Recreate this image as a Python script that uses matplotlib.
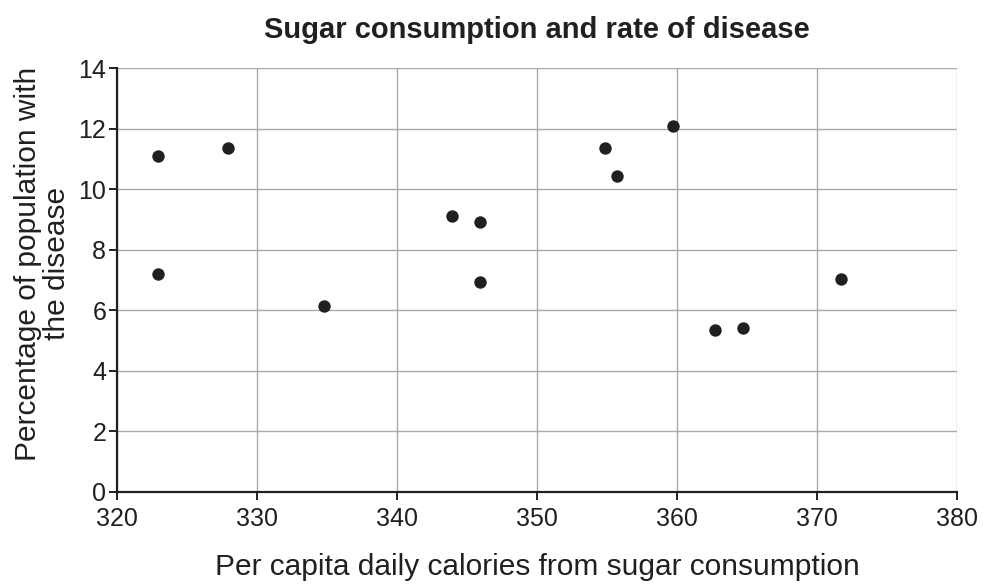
import matplotlib
matplotlib.use("Agg")
import matplotlib.pyplot as plt

# per capita daily calories from sugar vs % of population with the disease
calories = [322.9, 322.9, 327.9, 334.8, 343.9, 345.9, 345.9, 354.8, 355.7, 359.7, 362.7, 364.7, 371.7]
disease_pct = [11.1, 7.2, 11.35, 6.15, 9.13, 8.92, 6.94, 11.35, 10.43, 12.1, 5.34, 5.4, 7.03]

x_ticks = [320, 330, 340, 350, 360, 370, 380]
y_ticks = [0, 2, 4, 6, 8, 10, 12, 14]

plt.rcParams["font.family"] = ["Liberation Sans", "DejaVu Sans"]

fig = plt.figure(figsize=(9.83, 5.85), dpi=100)
ax = fig.add_axes([0.1193, 0.1598, 0.8546, 0.7234])

ax.scatter(calories, disease_pct, s=80, color="#231f20", zorder=3, linewidths=0)

ax.set_xlim(320, 380)
ax.set_ylim(0, 14)
ax.set_xticks(x_ticks)
ax.set_yticks(y_ticks)
ax.grid(True, color="#a7a9ac", lw=1.0)
ax.set_axisbelow(True)

for s in ("top", "right"):
    ax.spines[s].set_visible(False)
for s in ("left", "bottom"):
    ax.spines[s].set_color("#231f20")
    ax.spines[s].set_linewidth(1.6)
ax.tick_params(axis="both", direction="out", length=6, width=1.4, color="#231f20",
               labelsize=18, labelcolor="#231f20", pad=2)
ax.tick_params(axis="x", pad=5)

ax.set_xlabel("Per capita daily calories from sugar consumption", fontsize=21.5,
              color="#231f20", labelpad=16)
ax.set_ylabel("Percentage of population with\nthe disease", fontsize=21.5,
              color="#231f20", linespacing=1.05, labelpad=6)
ax.yaxis.set_label_coords(-0.055, 0.538)
ax.set_title("Sugar consumption and rate of disease", fontsize=21, fontweight="bold",
             color="#231f20", pad=22)

fig.savefig("out.png", dpi=100)
